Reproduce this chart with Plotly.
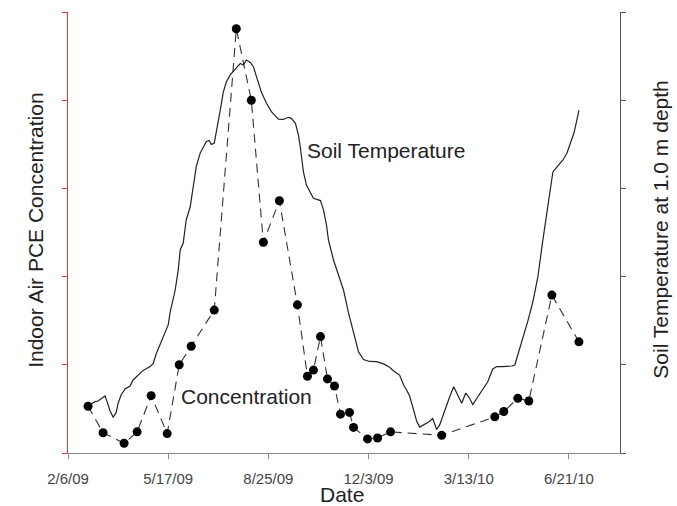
import pandas as pd
import plotly.graph_objects as go

# Indoor air PCE concentration (relative units, left axis 0-5)
conc_dates = ["2009-02-26", "2009-03-13", "2009-04-03", "2009-04-16", "2009-04-30",
              "2009-05-16", "2009-05-28", "2009-06-09", "2009-07-02", "2009-07-24",
              "2009-08-08", "2009-08-20", "2009-09-05", "2009-09-23", "2009-10-03",
              "2009-10-09", "2009-10-16", "2009-10-23", "2009-10-30", "2009-11-05",
              "2009-11-14", "2009-11-18", "2009-12-02", "2009-12-12", "2009-12-25",
              "2010-02-14", "2010-04-08", "2010-04-17", "2010-05-01", "2010-05-12",
              "2010-06-04", "2010-07-01"]
conc_values = [0.53, 0.23, 0.11, 0.24, 0.65, 0.22, 1.00, 1.21, 1.62, 4.81,
               4.00, 2.39, 2.86, 1.68, 0.87, 0.94, 1.32, 0.84, 0.76, 0.44,
               0.46, 0.29, 0.16, 0.17, 0.24, 0.20, 0.41, 0.47, 0.62, 0.59,
               1.79, 1.26]

# Soil temperature at 1.0 m depth (right axis), days since 2009-02-06
soil_start = "2009-02-06"
soil_days = [22, 27, 30, 34, 37, 39, 42, 45, 48, 50, 53, 57, 62, 65, 70, 75, 82, 85, 88, 93,
             97, 100, 102, 107, 110, 112, 115, 118, 122, 125, 128, 132, 135, 138, 141, 143,
             146, 148, 152, 155, 158, 162, 165, 168, 172, 175, 178, 182, 185, 188, 193, 198,
             203, 210, 215, 220, 223, 227, 230, 232, 235, 238, 242, 245, 252, 255, 258, 260,
             265, 270, 275, 280, 285, 290, 295, 301, 308, 315, 321, 326, 331, 335, 338, 341,
             345, 348, 351, 355, 360, 364, 366, 368, 371, 376, 381, 385, 390, 393, 397, 401,
             404, 409, 414, 419, 424, 428, 434, 443, 446, 450, 454, 459, 464, 469, 474, 478,
             481, 484, 487, 490, 494, 498, 502, 505, 508, 510]
soil_temp = [2.75, 2.91, 2.95, 3.10, 3.23, 2.91, 2.38, 2.04, 2.27, 2.81, 3.29, 3.63, 3.80,
             4.14, 4.42, 4.68, 4.90, 5.07, 5.61, 6.29, 6.86, 7.26, 7.99, 9.24, 10.37, 11.51,
             11.90, 13.21, 13.96, 15.10, 16.23, 17.01, 17.36, 17.65, 17.72, 17.49, 17.57,
             18.14, 19.44, 20.46, 21.03, 21.43, 21.66, 21.83, 22.08, 22.00, 22.28, 22.14,
             21.90, 21.33, 20.46, 19.84, 19.35, 18.93, 18.91, 19.03, 18.97, 18.69, 18.03,
             17.29, 15.93, 15.19, 14.74, 14.44, 14.31, 13.78, 12.93, 12.07, 10.94, 10.15,
             9.24, 7.94, 6.80, 5.73, 5.30, 5.19, 5.18, 5.05, 4.86, 4.61, 4.42, 3.85, 3.57,
             3.23, 2.44, 1.81, 1.47, 1.59, 1.76, 1.96, 1.64, 1.33, 1.59, 2.44, 3.19, 3.76,
             3.17, 2.82, 3.40, 3.09, 2.75, 3.19, 3.57, 4.04, 4.76, 4.90, 4.90, 4.93, 4.99,
             5.73, 6.50, 7.48, 8.56, 9.98, 12.07, 13.55, 14.80, 15.93, 16.14, 16.33, 16.61,
             16.99, 17.63, 18.14, 18.88, 19.42]

x_tick_dates = ["2009-02-06", "2009-05-17", "2009-08-25", "2009-12-03", "2010-03-13", "2010-06-21"]
x_tick_text = ["2/6/09", "5/17/09", "8/25/09", "12/3/09", "3/13/10", "6/21/10"]
x_range = ["2009-02-06", "2010-08-11"]

soil_dates = pd.Timestamp(soil_start) + pd.to_timedelta(soil_days, unit="D")

fig = go.Figure()
fig.add_trace(go.Scatter(
    x=conc_dates, y=conc_values, mode="lines+markers", yaxis="y",
    line=dict(color="#333333", width=1.1, dash="9px,6px"),
    marker=dict(color="black", size=9), showlegend=False))
fig.add_trace(go.Scatter(
    x=soil_dates, y=soil_temp, mode="lines", yaxis="y2",
    line=dict(color="#222222", width=1.2), showlegend=False))

font_family = "Liberation Sans, Arial, sans-serif"
txt = dict(size=21, color="#222222")


def note(text, x, y, angle=0):
    return dict(text=text, x=x, y=y, xref="paper", yref="paper", showarrow=False,
                xanchor="center", yanchor="middle", textangle=angle, font=txt)


fig.update_layout(
    width=677, height=506,
    margin=dict(l=68, r=57, t=12, b=53),
    plot_bgcolor="white", paper_bgcolor="white",
    font=dict(family=font_family, color="#222222"),
    xaxis=dict(type="date", range=x_range, tickvals=x_tick_dates, ticktext=x_tick_text,
               showline=True, linecolor="#8a8a8a", linewidth=1, ticks="outside",
               ticklen=5, tickcolor="#8a8a8a", showgrid=False, zeroline=False,
               ticklabelstandoff=7,
               tickfont=dict(size=15, color="#444444")),
    yaxis=dict(range=[0, 5], tickvals=[0, 1, 2, 3, 4, 5], showticklabels=False,
               showline=True, linecolor="#e8332f", linewidth=1.2, ticks="outside",
               ticklen=5, tickcolor="#e8332f", showgrid=False, zeroline=False),
    yaxis2=dict(range=[0, 25], tickvals=[0, 5, 10, 15, 20, 25], showticklabels=False,
                overlaying="y", side="right", showline=True, linecolor="#555555",
                linewidth=1, ticks="outside", ticklen=5, tickcolor="#555555",
                showgrid=False, zeroline=False),
    annotations=[
        note("Soil Temperature", 0.576, 0.687),
        note("Concentration", 0.324, 0.129),
        note("Indoor Air PCE Concentration", -0.058, 0.506, -90),
        note("Soil Temperature at 1.0 m depth", 1.074, 0.506, -90),
        note("Date", 0.496, -0.095),
    ],
)

fig.write_html("out.html")
